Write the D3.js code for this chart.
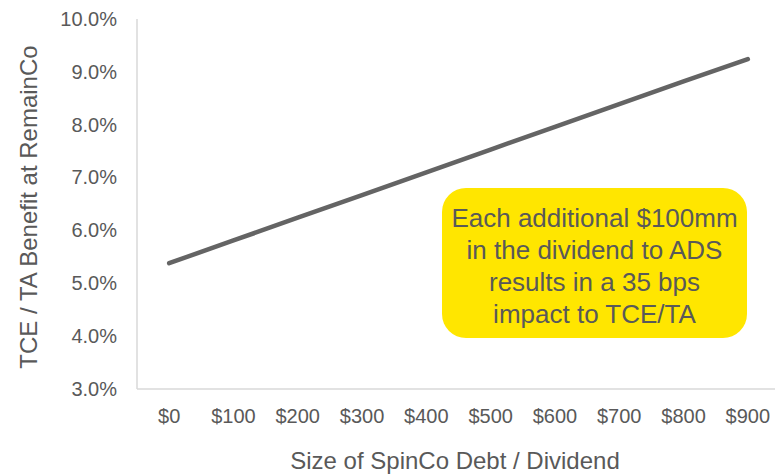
<!DOCTYPE html>
<html>
<head>
<meta charset="utf-8">
<script src="https://cdn.jsdelivr.net/npm/d3@7"></script>
<style>
  body { margin: 0; background: #fff; }
  text { font-family: "Liberation Sans", Arial, sans-serif; fill: #595959; }
</style>
</head>
<body>
<script>
// data
var categories = ['$0', '$100', '$200', '$300', '$400', '$500', '$600', '$700', '$800', '$900'];
var benefit = [5.38, 5.81, 6.24, 6.67, 7.10, 7.53, 7.96, 8.39, 8.82, 9.24];
var yTicks = [3, 4, 5, 6, 7, 8, 9, 10];
var calloutLines = ['Each additional $100mm', 'in the dividend to ADS', 'results in a 35 bps', 'impact to TCE/TA'];

var width = 775, height = 475;
var margin = { top: 19, right: -5, bottom: 86, left: 137 };

var svg = d3.select('body').append('svg').attr('width', width).attr('height', height);

var x = d3.scaleBand().domain(categories).range([margin.left, width - margin.right]);
var y = d3.scaleLinear().domain([3, 10]).range([height - margin.bottom, margin.top]);

//axes lines
svg.append('line').attr('x1', margin.left).attr('x2', margin.left)
  .attr('y1', y(10)).attr('y2', y(3)).attr('stroke', '#d9d9d9').attr('stroke-width', 1.5);
svg.append('line').attr('x1', margin.left).attr('x2', width)
  .attr('y1', y(3)).attr('y2', y(3)).attr('stroke', '#d9d9d9').attr('stroke-width', 1.5);

//y tick labels
var yAxis = svg.append('g').attr('transform', 'translate(' + (margin.left - 20) + ',0)')
  .call(d3.axisLeft(y).tickValues(yTicks).tickSize(0).tickFormat(function (d) { return d.toFixed(1) + '%'; }));
yAxis.select('.domain').remove();
yAxis.selectAll('text').style('font-size', '20px').attr('fill', '#595959').attr('x', 0);

//x tick labels
var xAxis = svg.append('g').attr('transform', 'translate(0,' + (y(3) + 17) + ')')
  .call(d3.axisBottom(x).tickSize(0));
xAxis.select('.domain').remove();
xAxis.selectAll('text').style('font-size', '20px').attr('fill', '#595959');

//line
var line = d3.line()
  .x(function (d, i) { return x(categories[i]) + x.bandwidth() / 2; })
  .y(function (d) { return y(d); });
svg.append('path').datum(benefit).attr('d', line)
  .attr('fill', 'none').attr('stroke', '#646464').attr('stroke-width', 4.5).attr('stroke-linecap', 'round');

//axis titles
svg.append('text').attr('transform', 'translate(37,' + 207 + ') rotate(-90)')
  .attr('text-anchor', 'middle').style('font-size', '24px').text('TCE / TA Benefit at RemainCo');
svg.append('text').attr('x', 455).attr('y', 469)
  .attr('text-anchor', 'middle').style('font-size', '24px').text('Size of SpinCo Debt / Dividend');

//callout
var box = { x: 442, y: 188, w: 305, h: 150 };
svg.append('rect').attr('x', box.x).attr('y', box.y).attr('width', box.w).attr('height', box.h)
  .attr('rx', 24).attr('ry', 24).attr('fill', '#ffe600');
svg.append('g').selectAll('text').data(calloutLines).enter().append('text')
  .attr('x', box.x + box.w / 2).attr('y', function (d, i) { return 227 + 32 * i; })
  .attr('text-anchor', 'middle').style('font-size', '26px').text(function (d) { return d; });
</script>
</body>
</html>
